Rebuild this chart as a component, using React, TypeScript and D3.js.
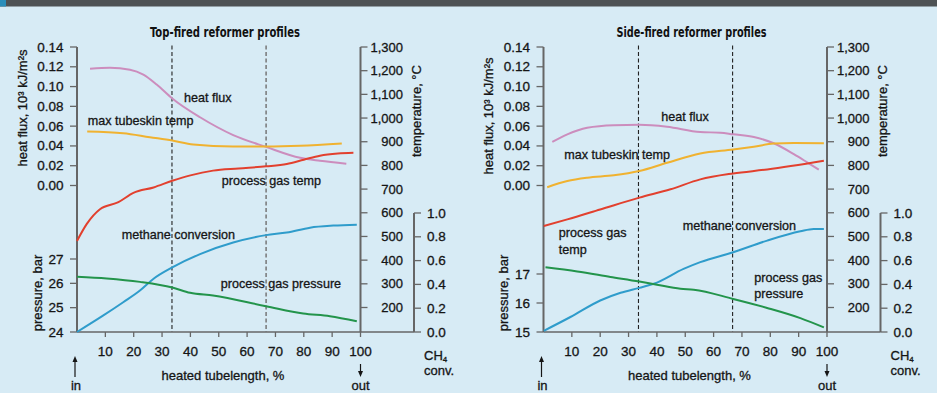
import React from "react";
import * as d3 from "d3";

const W = 937;
const H = 393;
const FONT = "'Liberation Sans', Arial, Helvetica, sans-serif";

// shared axis ticks
const xTicks = [10, 20, 30, 40, 50, 60, 70, 80, 90, 100];
const heatFluxTicks = [0, 0.02, 0.04, 0.06, 0.08, 0.1, 0.12, 0.14];
const tempTicks = [200, 300, 400, 500, 600, 700, 800, 900, 1000, 1100, 1200, 1300];
const convTicks = [0, 0.2, 0.4, 0.6, 0.8, 1.0];
const dividers = [33.5, 66.7];

// top-fired reformer (x = % heated tube length)
const topPressureTicks = [24, 25, 26, 27];
const topHeatFluxX = [4.6, 11.6, 18.7, 23.4, 28.1, 33.6, 43.4, 55.1, 66.7, 78.7, 85.7, 95];
const topHeatFlux = [0.118, 0.119, 0.117, 0.112, 0.102, 0.088, 0.069, 0.051, 0.039, 0.028, 0.025, 0.022];
const topTubeskinX = [3.6, 16.3, 25.7, 33.6, 41, 55, 66.7, 78.7, 93.4];
const topTubeskin = [943, 936, 919, 905, 888, 880, 880, 883, 893];
const topGasTempX = [0, 3.4, 8.1, 14.6, 19.9, 27, 33.6, 40, 48, 57, 66.7, 74, 80, 85.7, 92, 97.5];
const topGasTemp = [481, 552, 615, 645, 684, 707, 735, 758, 778, 787, 796, 806, 824, 841, 850, 853];
const topConvX = [0, 9.3, 16.3, 22.2, 26.9, 33.6, 43.4, 55.1, 66.7, 74, 82.2, 90.4, 98.7];
const topConv = [0, 0.139, 0.25, 0.348, 0.446, 0.543, 0.655, 0.752, 0.814, 0.836, 0.877, 0.894, 0.902];
const topPressureX = [0, 10.5, 22.2, 33.6, 39.9, 48, 66.7, 79.8, 89.2, 98.7];
const topPressure = [26.27, 26.2, 26.06, 25.83, 25.61, 25.5, 25.06, 24.76, 24.65, 24.44];

// side-fired reformer
const sidePressureTicks = [15, 16, 17];
const sideHeatFluxX = [3.1, 8.4, 15.4, 24.8, 33.8, 43.6, 55.3, 62.4, 66.9, 74.2, 81.2, 88.3, 93, 97.1];
const sideHeatFlux = [0.044, 0.0517, 0.0584, 0.061, 0.0614, 0.0594, 0.054, 0.0534, 0.0517, 0.049, 0.0427, 0.0317, 0.0234, 0.016];
const sideTubeskinX = [1.3, 8.4, 15.4, 24.8, 33.8, 43.6, 55.3, 66.9, 74.2, 81.2, 88.3, 98.9];
const sideTubeskin = [708, 734, 748, 758, 776, 811, 850, 867, 879, 892, 895, 894];
const sideGasTempX = [0.1, 8.4, 20, 33.8, 44.8, 55.3, 66.9, 78.9, 98.9];
const sideGasTemp = [544, 572, 614, 664, 699, 741, 766, 783, 820];
const sideConvX = [0.1, 9.5, 20, 27.2, 33.8, 38.9, 49.4, 55.3, 66.9, 78.9, 90.6, 95.3, 98.9];
const sideConv = [0.01, 0.126, 0.265, 0.33, 0.371, 0.405, 0.53, 0.587, 0.67, 0.768, 0.846, 0.866, 0.866];
const sidePressureX = [0.7, 11.9, 23.6, 33.8, 40, 48.3, 53, 66.9, 78.9, 90.6, 98.9];
const sidePressure = [17.23, 17.09, 16.9, 16.74, 16.63, 16.49, 16.46, 16.14, 15.83, 15.48, 15.16];

const C = {
  heat: "#cc8dbd",
  skin: "#f0b230",
  gas: "#e2402e",
  conv: "#2f9ccb",
  press: "#23944b",
  axis: "#666",
  text: "#151515",
};

const zip = (xs: number[], ys: number[]) => xs.map((x, i) => [x, ys[i]] as [number, number]);

type Note = { lines: string[]; dx: number; y: number };

function Panel(props: any) {
  const { x0, title, pDomain, pRange, pTicks, series, notes, hfLabelY, darkSecond } = props;
  const x1 = x0 + 283.5;
  const convX = x0 + 337;
  const bottom = 332;

  const x = d3.scaleLinear().domain([0, 100]).range([x0, x1]);
  const yHF = d3.scaleLinear().domain([0, 0.14]).range([185.5, 47]);
  const yT = d3.scaleLinear().domain([200, 1300]).range([307.5, 47]);
  const yC = d3.scaleLinear().domain([0, 1]).range([bottom, 213]);
  const yP = d3.scaleLinear().domain(pDomain).range(pRange);

  const mk = (ys: any) =>
    d3
      .line<[number, number]>()
      .x((d) => x(d[0]))
      .y((d) => ys(d[1]))
      .curve(d3.curveMonotoneX);

  // slight stroke to give the text the heavier look of the original
  const ts = { fontFamily: FONT, fontSize: 13.5, fill: C.text, stroke: C.text, strokeWidth: 0.3 } as const;

  return (
    <g>
      <text x={x0 + 148} y={32} textAnchor="middle" dominantBaseline="central" fontFamily="'Liberation Sans Narrow', 'DejaVu Sans Condensed', Arial, sans-serif" fontWeight="bold" fontSize={13.5} textLength={150} lengthAdjust="spacingAndGlyphs" fill="#111">
        {title}
      </text>

      {/* divider lines */}
      {dividers.map((d, i) => (
        <line key={i} x1={x(d)} x2={x(d)} y1={45.5} y2={bottom} stroke={i === 1 && !darkSecond ? "#777" : "#222"} strokeWidth={i === 1 && !darkSecond ? 1.5 : 1.1} strokeDasharray="4 2.5" />
      ))}

      {/* left axis */}
      <line x1={x0} x2={x0} y1={47} y2={bottom} stroke={C.axis} strokeWidth={2} />
      {heatFluxTicks.map((t) => (
        <g key={"hf" + t}>
          <line x1={x0 - 7} x2={x0} y1={yHF(t)} y2={yHF(t)} stroke={C.axis} strokeWidth={1.3} />
          <text {...ts} x={x0 - 13.5} y={yHF(t)} textAnchor="end" dominantBaseline="central">{t.toFixed(2)}</text>
        </g>
      ))}
      {pTicks.map((t: number) => (
        <g key={"p" + t}>
          <line x1={x0 - 7} x2={x0} y1={yP(t)} y2={yP(t)} stroke={C.axis} strokeWidth={1.3} />
          <text {...ts} x={x0 - 13.5} y={yP(t)} textAnchor="end" dominantBaseline="central">{t}</text>
        </g>
      ))}
      <text {...ts} fontSize={13} transform={`translate(${x0 - 55},${hfLabelY}) rotate(-90)`} textAnchor="middle" dominantBaseline="central">
        {props.hfLabel}
      </text>
      <text {...ts} fontSize={13} transform={`translate(${x0 - 40},293) rotate(-90)`} textAnchor="middle" dominantBaseline="central">
        pressure, bar
      </text>

      {/* bottom axis */}
      <line x1={x0} x2={convX} y1={bottom} y2={bottom} stroke={C.axis} strokeWidth={1.5} />
      {xTicks.map((t) => (
        <g key={"x" + t}>
          <line x1={x(t)} x2={x(t)} y1={bottom} y2={bottom + 5} stroke={C.axis} strokeWidth={1.3} />
          <text {...ts} x={x(t)} y={351} textAnchor="middle" dominantBaseline="central">{t}</text>
        </g>
      ))}
      <text {...ts} fontSize={13} x={x0 + 146} y={375} textAnchor="middle" dominantBaseline="central">heated tubelength, %</text>
      <line x1={x0 - 2} x2={x0 - 2} y1={377} y2={359} stroke={C.text} strokeWidth={1.2} />
      <path d={`M${x0 - 4.5},${362} L${x0 - 2},${356} L${x0 + 0.5},${362} Z`} fill={C.text} />
      <text {...ts} fontSize={13} x={x0 - 1} y={389.5} textAnchor="middle">in</text>
      <line x1={x1} x2={x1} y1={364} y2={373} stroke={C.text} strokeWidth={1.2} />
      <path d={`M${x1 - 2.5},${371} L${x1},${377} L${x1 + 2.5},${371} Z`} fill={C.text} />
      <text {...ts} fontSize={13} x={x1} y={389.5} textAnchor="middle">out</text>

      {/* temperature axis */}
      <line x1={x1} x2={x1} y1={47} y2={bottom} stroke={C.axis} strokeWidth={2} />
      {tempTicks.map((t) => (
        <g key={"t" + t}>
          <line x1={x1} x2={x1 + 7} y1={yT(t)} y2={yT(t)} stroke={C.axis} strokeWidth={1.3} />
          <text {...ts} fontSize={13} x={x1 + 42.5} y={yT(t)} textAnchor="end" dominantBaseline="central">{d3.format(",")(t)}</text>
        </g>
      ))}
      <text {...ts} fontSize={13} transform={`translate(${x1 + 55.5},111) rotate(-90)`} textAnchor="middle" dominantBaseline="central">
        temperature, °C
      </text>

      {/* methane conversion axis */}
      <line x1={convX} x2={convX} y1={213} y2={bottom} stroke={C.axis} strokeWidth={2} />
      {convTicks.map((t) => (
        <g key={"c" + t}>
          <line x1={convX} x2={convX + 7} y1={yC(t)} y2={yC(t)} stroke={C.axis} strokeWidth={1.3} />
          <text {...ts} x={convX + 13} y={yC(t)} dominantBaseline="central">{t.toFixed(1)}</text>
        </g>
      ))}
      <text {...ts} fontSize={13} x={convX + 10} y={355} dominantBaseline="central">
        CH<tspan fontSize={8} dy={4}>4</tspan>
      </text>
      <text {...ts} fontSize={13} x={convX + 10} y={370} dominantBaseline="central">conv.</text>

      {/* curves */}
      <path d={mk(yHF)(zip(series.hfX, series.hf)) || ""} fill="none" stroke={C.heat} strokeWidth={2} />
      <path d={mk(yT)(zip(series.skinX, series.skin)) || ""} fill="none" stroke={C.skin} strokeWidth={2} />
      <path d={mk(yT)(zip(series.gasX, series.gas)) || ""} fill="none" stroke={C.gas} strokeWidth={2} />
      <path d={mk(yC)(zip(series.convX, series.conv)) || ""} fill="none" stroke={C.conv} strokeWidth={2} />
      <path d={mk(yP)(zip(series.pX, series.p)) || ""} fill="none" stroke={C.press} strokeWidth={2} />

      {notes.map((n: Note, i: number) => (
        <text key={"n" + i} {...ts} fontSize={12.6} x={x0 + n.dx} y={n.y} dominantBaseline="central">
          {n.lines.map((l, j) => (
            <tspan key={j} x={x0 + n.dx} dy={j === 0 ? 0 : 16.5}>{l}</tspan>
          ))}
        </text>
      ))}
    </g>
  );
}

export default function App() {
  return (
    <svg width={W} height={H} viewBox={`0 0 ${W} ${H}`} style={{ position: "absolute", left: 0, top: 0, display: "block" }}>
      <rect x={0} y={0} width={W} height={H} fill="#d7ebf5" />
      <rect x={0} y={0} width={W} height={6.5} fill="#4e5254" />
      <rect x={0} y={0} width={6} height={6.5} fill="#2a8eba" />
      <Panel
        x0={77}
        title="Top-fired reformer profiles"
        hfLabel="heat flux, 10³ kJ/m²s"
        hfLabelY={108}
        pDomain={[24, 27]}
        pRange={[332, 259]}
        pTicks={topPressureTicks}
        series={{
          hfX: topHeatFluxX, hf: topHeatFlux,
          skinX: topTubeskinX, skin: topTubeskin,
          gasX: topGasTempX, gas: topGasTemp,
          convX: topConvX, conv: topConv,
          pX: topPressureX, p: topPressure,
        }}
        notes={[
          { lines: ["heat flux"], dx: 107, y: 98 },
          { lines: ["max tubeskin temp"], dx: 10.7, y: 121 },
          { lines: ["process gas temp"], dx: 144.7, y: 181 },
          { lines: ["methane conversion"], dx: 44.7, y: 235 },
          { lines: ["process gas pressure"], dx: 143.7, y: 284 },
        ]}
      />
      <Panel
        x0={543.5}
        title="Side-fired reformer profiles"
        hfLabel="heat flux,  10³ kJ/m²s"
        hfLabelY={116}
        pDomain={[15, 17]}
        pRange={[332, 274]}
        pTicks={sidePressureTicks}
        darkSecond
        series={{
          hfX: sideHeatFluxX, hf: sideHeatFlux,
          skinX: sideTubeskinX, skin: sideTubeskin,
          gasX: sideGasTempX, gas: sideGasTemp,
          convX: sideConvX, conv: sideConv,
          pX: sidePressureX, p: sidePressure,
        }}
        notes={[
          { lines: ["heat flux"], dx: 117.8, y: 116.7 },
          { lines: ["max tubeskin temp"], dx: 20.8, y: 155 },
          { lines: ["process gas", "temp"], dx: 15.2, y: 233.3 },
          { lines: ["methane conversion"], dx: 139.2, y: 226 },
          { lines: ["process gas", "pressure"], dx: 210.8, y: 277.7 },
        ]}
      />
    </svg>
  );
}
